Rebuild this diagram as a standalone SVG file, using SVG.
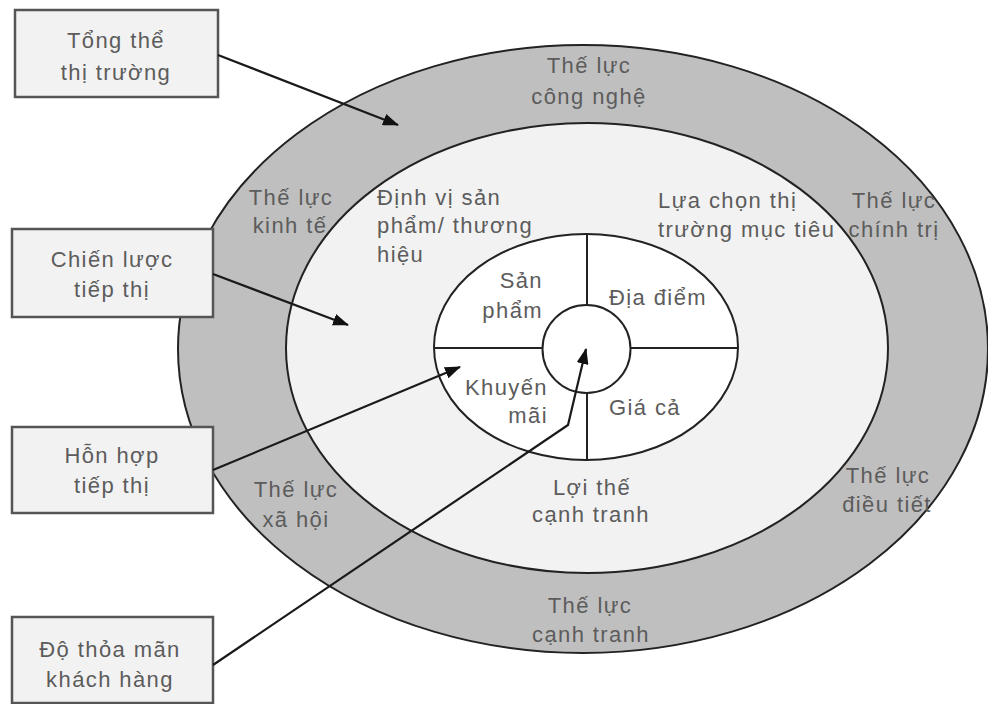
<svg xmlns="http://www.w3.org/2000/svg" width="988" height="704" viewBox="0 0 988 704">
<style>
text{font-family:"Liberation Sans",Arial,sans-serif;font-size:22px;fill:#5c5c5c;letter-spacing:1.4px}
.c{text-anchor:middle}
.e{text-anchor:end}
.box{fill:#f2f2f2;stroke:#555;stroke-width:2.5}
.ln{fill:none;stroke:#222;stroke-width:2}
.arr{fill:none;stroke:#1a1a1a;stroke-width:2.2;marker-end:url(#ah)}
</style>
<defs>
<marker id="ah" markerUnits="userSpaceOnUse" markerWidth="16" markerHeight="12" refX="15" refY="6" orient="auto">
<path d="M0,0 L16,6 L0,12 z" fill="#111"/>
</marker>
</defs>
<rect width="988" height="704" fill="#fff"/>
<g id="ring-outer">
<ellipse cx="583" cy="349" rx="405" ry="304" fill="#bfbfbf" stroke="#222" stroke-width="2"/>
<text class="c" x="589" y="73">Thế lực</text>
<text class="c" x="589" y="104">công nghệ</text>
<text class="c" x="291" y="205">Thế lực</text>
<text class="c" x="290" y="233">kinh tế</text>
<text class="c" x="894" y="208">Thế lực</text>
<text class="c" x="894" y="237">chính trị</text>
<text class="c" x="296" y="497">Thế lực</text>
<text class="c" x="296" y="527">xã hội</text>
<text class="c" x="888" y="483">Thế lực</text>
<text class="c" x="887" y="512">điều tiết</text>
<text class="c" x="590" y="613">Thế lực</text>
<text class="c" x="591" y="642">cạnh tranh</text>
</g>
<g id="ring-middle">
<ellipse cx="587" cy="348" rx="301" ry="225" fill="#f2f2f2" stroke="#222" stroke-width="2"/>
<text x="377" y="205">Định vị sản</text>
<text x="377" y="233">phẩm/ thương</text>
<text x="377" y="262">hiệu</text>
<text x="658" y="208">Lựa chọn thị</text>
<text x="658" y="237">trường mục tiêu</text>
<text class="c" x="592" y="495">Lợi thế</text>
<text class="c" x="591" y="522">cạnh tranh</text>
</g>
<g id="mix">
<ellipse cx="586" cy="347" rx="152" ry="113" fill="#fff" stroke="#222" stroke-width="2"/>
<line class="ln" x1="434" y1="348" x2="738" y2="348"/>
<line class="ln" x1="587" y1="234" x2="587" y2="460"/>
<text class="e" x="543" y="288">Sản</text>
<text class="e" x="543" y="318">phẩm</text>
<text class="c" x="658" y="305">Địa điểm</text>
<text class="e" x="548" y="395">Khuyến</text>
<text class="e" x="548" y="423">mãi</text>
<text class="c" x="645" y="415">Giá cả</text>
</g>
<g id="core">
<circle cx="586.5" cy="349" r="44" fill="#fff" stroke="#222" stroke-width="2"/>
</g>
<g id="box-tong-the">
<rect class="box" x="15" y="10" width="203" height="87"/>
<text class="c" x="116" y="48">Tổng thể</text>
<text class="c" x="116" y="80">thị trường</text>
</g>
<g id="box-chien-luoc">
<rect class="box" x="12" y="229" width="201" height="88"/>
<text class="c" x="112" y="267">Chiến lược</text>
<text class="c" x="112" y="297">tiếp thị</text>
</g>
<g id="box-hon-hop">
<rect class="box" x="12" y="427" width="201" height="86"/>
<text class="c" x="112" y="463">Hỗn hợp</text>
<text class="c" x="112" y="493">tiếp thị</text>
</g>
<g id="box-do-thoa-man">
<rect class="box" x="12" y="617" width="201" height="86"/>
<text class="c" x="110" y="657">Độ thỏa mãn</text>
<text class="c" x="110" y="687">khách hàng</text>
</g>
<g id="connectors">
<path class="arr" d="M218,55 L398,125"/>
<path class="arr" d="M213,274 L348,325"/>
<path class="arr" d="M213,470 L460,367"/>
<path class="arr" d="M213,665 L568,425 L586,349"/>
</g>
</svg>
